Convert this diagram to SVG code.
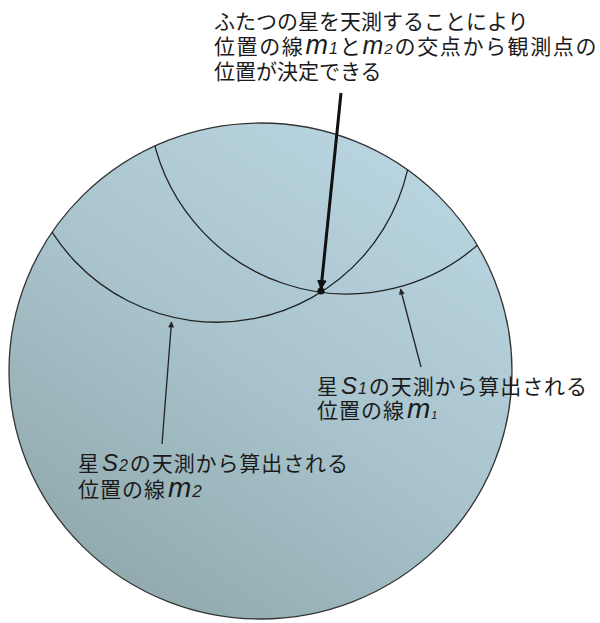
<svg xmlns="http://www.w3.org/2000/svg" width="600" height="623" viewBox="0 0 600 623">
<style>
.t{font-family:"Noto Sans CJK JP","Noto Sans",sans-serif;font-size:21px;fill:#1b1b1b}
.m{font-family:"Liberation Sans",Arial,sans-serif;font-style:italic;letter-spacing:0}
.arc{fill:none;stroke:#222;stroke-width:1.3}
.thin{stroke:#222;stroke-width:1.3}
</style>
<defs>
<linearGradient id="g" x1="0.85" y1="0.05" x2="0.2" y2="1">
<stop offset="0" stop-color="#bad6e2"/>
<stop offset="0.5" stop-color="#a8c3cc"/>
<stop offset="1" stop-color="#8ea7ab"/>
</linearGradient>
<clipPath id="clip"><ellipse cx="260.5" cy="371" rx="251.5" ry="248"/></clipPath>
<marker id="ah" viewBox="0 0 10 10" refX="9" refY="5" markerUnits="userSpaceOnUse" markerWidth="7" markerHeight="6" orient="auto">
<path d="M0,0 L10,5 L0,10 z" fill="#222"/>
</marker>
<marker id="ahb" viewBox="0 0 10 10" refX="9" refY="5" markerUnits="userSpaceOnUse" markerWidth="10" markerHeight="10" orient="auto">
<path d="M0,0 L10,5 L0,10 z" fill="#111"/>
</marker>
</defs>
<g id="globe">
<ellipse cx="260.5" cy="371" rx="251.5" ry="248" fill="url(#g)" stroke="#333" stroke-width="1.3"/>
</g>
<g id="lines" clip-path="url(#clip)">
<path id="m1" class="arc" d="M150,119.8 A198.5,198.5 0 0 0 490,233.1"/>
<path id="m2" class="arc" d="M40,210.3 A195.6,195.6 0 0 0 412,139"/>
</g>
<g id="connectors">
<line x1="341" y1="93" x2="321" y2="289" stroke="#111" stroke-width="3" marker-end="url(#ahb)"/>
<line class="thin" x1="421" y1="367" x2="400.5" y2="289" marker-end="url(#ah)"/>
<line class="thin" x1="162" y1="444" x2="171.5" y2="322" marker-end="url(#ah)"/>
</g>
<g id="fix"><circle cx="321" cy="291" r="3.6" fill="#111"/></g>
<g id="title">
<text class="t" x="214" y="29">ふたつの星を天測することにより</text>
<text class="t" x="214" y="54" letter-spacing="1.6">位置の線<tspan class="m" font-size="27" dx="1">m</tspan><tspan class="m" font-size="16" dx="1">1</tspan><tspan dx="2">と</tspan><tspan class="m" font-size="25">m</tspan><tspan class="m" font-size="15" dx="1">2</tspan><tspan dx="2">の交点から観測点の</tspan></text>
<text class="t" x="214" y="79">位置が決定できる</text>
</g>
<g id="label-m1">
<text class="t" x="317" y="394" letter-spacing="0.9">星<tspan class="m" font-size="24" dx="2">S</tspan><tspan class="m" font-size="16" dx="1">1</tspan><tspan dx="2">の天測から算出される</tspan></text>
<text class="t" x="317" y="418" letter-spacing="1">位置の線<tspan class="m" font-size="28" dx="2">m</tspan><tspan class="m" font-size="11" dx="1" dy="1">1</tspan></text>
</g>
<g id="label-m2">
<text class="t" x="78" y="471" letter-spacing="0.9">星<tspan class="m" font-size="24" dx="2">S</tspan><tspan class="m" font-size="16" dx="1">2</tspan><tspan dx="2">の天測から算出される</tspan></text>
<text class="t" x="78" y="497" letter-spacing="1">位置の線<tspan class="m" font-size="28" dx="2">m</tspan><tspan class="m" font-size="17" dx="1">2</tspan></text>
</g>
</svg>
